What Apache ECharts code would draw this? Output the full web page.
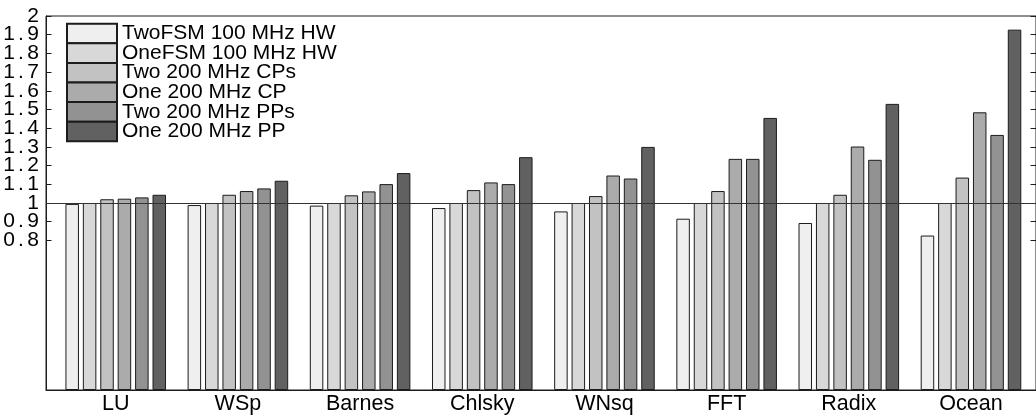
<!DOCTYPE html>
<html>
<head>
<meta charset="utf-8">
<title>Normalized performance by benchmark</title>
<script src="https://cdn.jsdelivr.net/npm/echarts@6/dist/echarts.min.js"></script>
<style>
  html, body { margin: 0; padding: 0; background: #ffffff; }
  #chart { width: 1036px; height: 415px; }
</style>
</head>
<body>
<div id="chart"></div>
<script>
// Benchmarks along the x axis
const categories = ['LU', 'WSp', 'Barnes', 'Chlsky', 'WNsq', 'FFT', 'Radix', 'Ocean'];

// Normalized results for each configuration (one value per benchmark)
const twoFsmHw   = [0.995, 0.989, 0.986, 0.973, 0.955, 0.916, 0.893, 0.826];
const oneFsmHw   = [1.000, 1.000, 1.000, 1.000, 1.000, 1.000, 1.000, 1.000];
const twoCps     = [1.020, 1.044, 1.041, 1.069, 1.037, 1.064, 1.044, 1.136];
const oneCp      = [1.023, 1.064, 1.062, 1.110, 1.147, 1.236, 1.302, 1.485];
const twoPps     = [1.030, 1.078, 1.101, 1.101, 1.131, 1.236, 1.231, 1.364];
const onePp      = [1.044, 1.119, 1.160, 1.245, 1.300, 1.455, 1.530, 1.927];

const seriesNames = [
  'TwoFSM 100 MHz HW',
  'OneFSM 100 MHz HW',
  'Two 200 MHz CPs',
  'One 200 MHz CP',
  'Two 200 MHz PPs',
  'One 200 MHz PP'
];

// Labelled y ticks
const yTickLabels = ['0.8', '0.9', '1', '1.1', '1.2', '1.3', '1.4', '1.5',
                     '1.6', '1.7', '1.8', '1.9', '2'];

const seriesValues = [twoFsmHw, oneFsmHw, twoCps, oneCp, twoPps, onePp];
const fills = ['#efefef', '#d8d8d8', '#c2c2c2', '#ababab', '#929292', '#616161'];
const yTickValues = yTickLabels.map(Number);
const font = "'Liberation Sans', Arial, Helvetica, sans-serif";

// The tick labels are tightly packed, so they are split over two
// coincident left axes (alternate ticks) to keep every one visible.
const evenTicks = yTickValues.filter((v, i) => i % 2 === 0);
const oddTicks = yTickValues.filter((v, i) => i % 2 === 1);

// Tick labels are set with a wide, even character pitch
function spacedLabel(v) {
  const text = yTickLabels[yTickValues.findIndex(t => Math.abs(t - v) < 1e-6)];
  return text.split('').map(ch => (ch === '.' ? '{p|.}' : '{d|' + ch + '}')).join('');
}

const tickLabelStyle = (values) => ({
  customValues: values,
  showMinLabel: true, showMaxLabel: true,
  formatter: spacedLabel,
  fontFamily: font, fontSize: 21, color: '#000', margin: 6,
  rich: {
    d: { fontFamily: font, fontSize: 21, color: '#000', width: 14, align: 'center' },
    p: { fontFamily: font, fontSize: 21, color: '#000', width: 10, align: 'center' }
  }
});

const chart = echarts.init(document.getElementById('chart'), null, { renderer: 'canvas' });

const series = seriesValues.map((vals, si) => {
  const s = {
    name: seriesNames[si],
    type: 'bar',
    barWidth: 13.5,
    barGap: '29%',
    data: vals.map((v, i) => [i + 1, v]),
    itemStyle: { color: fills[si], borderColor: '#1c1c1c', borderWidth: 1 },
    emphasis: { disabled: true },
    animation: false
  };
  if (si === 0) {
    // reference level at 1
    s.markLine = {
      silent: true,
      symbol: ['none', 'none'],
      label: { show: false },
      lineStyle: { color: '#333333', width: 1.2, type: 'solid' },
      data: [{ yAxis: 1 }],
      animation: false
    };
  }
  return s;
});

chart.setOption({
  backgroundColor: '#ffffff',
  animation: false,
  textStyle: { fontFamily: font },
  grid: {
    left: 46, right: -1, top: 16, bottom: 24.5,
    show: true, borderColor: '#1c1c1c', borderWidth: 1,
    backgroundColor: 'transparent'
  },
  legend: {
    orient: 'vertical',
    left: 66, top: 22.7,
    padding: 0,
    itemWidth: 50, itemHeight: 19.6, itemGap: -2,
    icon: 'rect',
    selectedMode: false,
    textStyle: { fontFamily: font, fontSize: 21, color: '#000', lineHeight: 16 },
    data: seriesNames
  },
  xAxis: {
    type: 'value',
    min: 0.4293, max: 8.532,
    axisLine: { show: true, lineStyle: { color: '#1c1c1c', width: 1 } },
    axisTick: { show: false },
    splitLine: { show: false },
    axisLabel: {
      customValues: categories.map((c, i) => i + 1),
      formatter: v => categories[Math.round(v) - 1],
      fontFamily: font, fontSize: 21.5, color: '#000', margin: 3
    }
  },
  yAxis: [{
    type: 'value',
    position: 'left',
    min: 0, max: 2,
    axisLine: { show: true, lineStyle: { color: '#1c1c1c', width: 1 } },
    axisTick: { show: true, inside: true, length: 5.5, customValues: yTickValues,
                lineStyle: { color: '#1c1c1c' } },
    splitLine: { show: false },
    axisLabel: tickLabelStyle(evenTicks)
  }, {
    type: 'value',
    position: 'left',
    offset: 0,
    min: 0, max: 2,
    axisLine: { show: false },
    axisTick: { show: false },
    splitLine: { show: false },
    axisLabel: tickLabelStyle(oddTicks)
  }, {
    type: 'value',
    position: 'right',
    min: 0, max: 2,
    axisLine: { show: false },
    axisTick: { show: true, inside: true, length: 5.5, customValues: yTickValues,
                lineStyle: { color: '#1c1c1c' } },
    splitLine: { show: false },
    axisLabel: { show: false }
  }],
  series: series
});
</script>
</body>
</html>
